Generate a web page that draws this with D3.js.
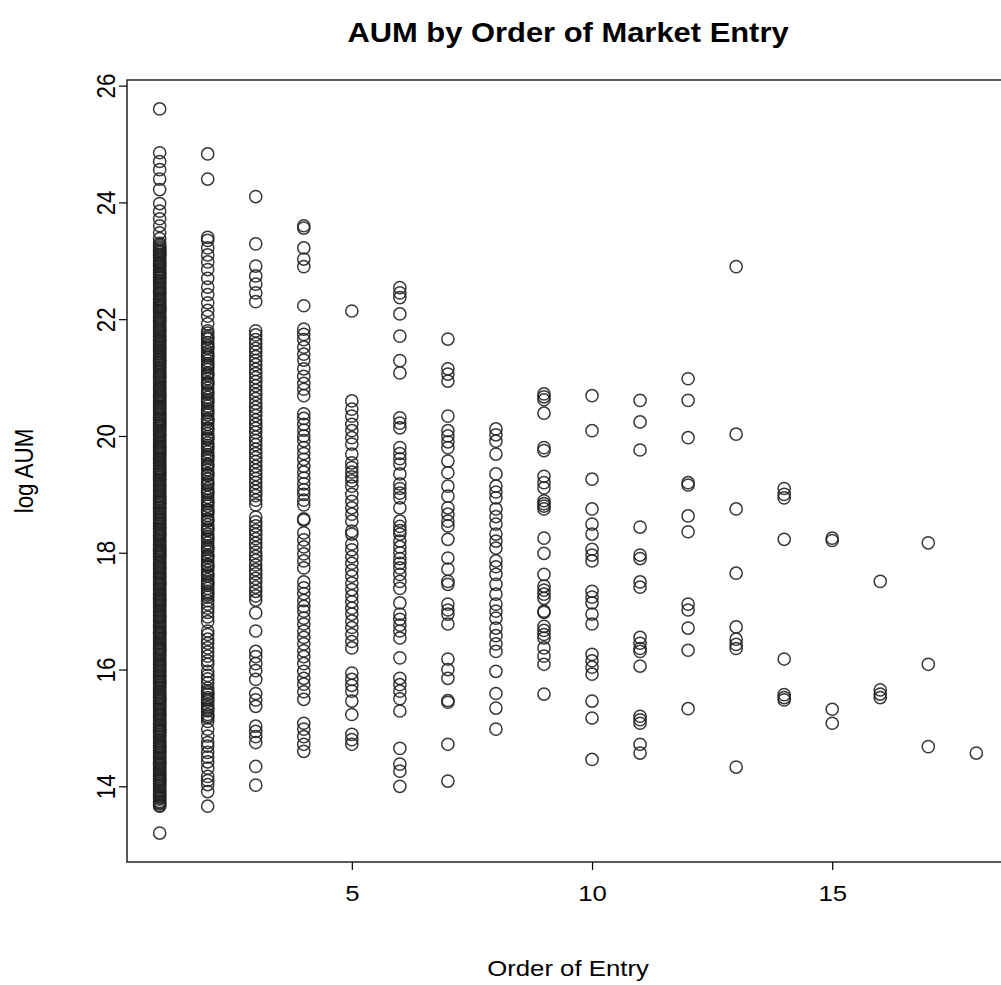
<!DOCTYPE html>
<html>
<head>
<meta charset="utf-8">
<script src="https://cdn.jsdelivr.net/npm/d3@7"></script>
<style>
  body { margin: 0; background: #fff; }
  svg { display: block; }
  text { font-family: "Liberation Sans", Arial, Helvetica, sans-serif; fill: #000; }
</style>
</head>
<body>
<svg id="chart" width="1001" height="985"></svg>
<script>
// log AUM of each fund, grouped by the order in which it entered its market
const entry1 = [25.60, 24.85, 24.70, 24.56, 24.40, 24.22, 23.98, 23.85, 23.72, 23.60, 23.48, 23.38, 23.30,
  23.27, 23.21, 23.18, 23.14, 23.09, 23.06, 23.03, 22.97, 22.95, 22.90, 22.86, 22.81, 22.79, 22.74, 22.70, 22.67,
  22.61, 22.58, 22.55, 22.49, 22.46, 22.42, 22.38, 22.33, 22.31, 22.25, 22.22, 22.18, 22.13, 22.10, 22.06, 22.01,
  21.98, 21.93, 21.90, 21.85, 21.82, 21.77, 21.74, 21.69, 21.66, 21.62, 21.57, 21.54, 21.50, 21.45, 21.42, 21.37,
  21.34, 21.29, 21.26, 21.21, 21.18, 21.13, 21.10, 21.05, 21.02, 20.97, 20.94, 20.89, 20.86, 20.82, 20.77, 20.74,
  20.69, 20.65, 20.62, 20.57, 20.54, 20.49, 20.46, 20.41, 20.38, 20.33, 20.30, 20.26, 20.21, 20.18, 20.13, 20.10,
  20.05, 20.02, 19.98, 19.93, 19.90, 19.85, 19.82, 19.78, 19.73, 19.70, 19.65, 19.62, 19.57, 19.54, 19.49, 19.46,
  19.42, 19.37, 19.34, 19.29, 19.26, 19.21, 19.18, 19.14, 19.09, 19.06, 19.01, 18.98, 18.93, 18.90, 18.86, 18.81,
  18.78, 18.73, 18.70, 18.65, 18.62, 18.58, 18.53, 18.50, 18.45, 18.42, 18.37, 18.34, 18.30, 18.25, 18.22, 18.17,
  18.14, 18.09, 18.06, 18.02, 17.97, 17.94, 17.89, 17.86, 17.81, 17.78, 17.74, 17.69, 17.66, 17.61, 17.58, 17.53,
  17.50, 17.46, 17.41, 17.38, 17.33, 17.30, 17.25, 17.22, 17.18, 17.13, 17.10, 17.05, 17.02, 16.97, 16.94, 16.90,
  16.85, 16.82, 16.77, 16.74, 16.69, 16.66, 16.62, 16.57, 16.54, 16.49, 16.46, 16.41, 16.38, 16.34, 16.29, 16.26,
  16.21, 16.18, 16.13, 16.10, 16.06, 16.01, 15.98, 15.93, 15.90, 15.85, 15.82, 15.78, 15.73, 15.70, 15.65, 15.62,
  15.57, 15.54, 15.50, 15.45, 15.42, 15.37, 15.34, 15.29, 15.26, 15.22, 15.17, 15.14, 15.09, 15.06, 15.01, 14.98,
  14.94, 14.89, 14.86, 14.81, 14.78, 14.73, 14.70, 14.66, 14.61, 14.58, 14.53, 14.50, 14.45, 14.42, 14.38, 14.33,
  14.30, 14.25, 14.22, 14.17, 14.14, 14.10, 14.05, 14.02, 13.97, 13.94, 13.89, 13.86, 13.82, 13.78, 13.74, 13.70,
  13.67, 13.66, 13.20,
  23.24, 23.16, 23.11, 23.00, 22.92, 22.84, 22.77, 22.72, 22.64, 22.52, 22.44, 22.35, 22.28, 22.20, 22.15, 22.03,
  21.96, 21.88, 21.80, 21.71, 21.64, 21.59, 21.52, 21.47, 21.40, 21.31, 21.24, 21.16, 21.08, 21.00,
  20.92, 20.84, 20.79, 20.71, 20.67, 20.59, 20.51, 20.44, 20.36, 20.28, 20.23, 20.16, 20.08, 20.00,
  19.95, 19.88, 19.80, 19.75, 19.68, 19.60, 19.52, 19.44, 19.39, 19.32, 19.24, 19.16, 19.11, 19.04,
  18.96, 18.88, 18.84, 18.76, 18.68, 18.60, 18.56, 18.48, 18.40, 18.32, 18.28, 18.20, 18.12, 18.04,
  17.99, 17.92, 17.84, 17.76, 17.72, 17.64, 17.56, 17.48, 17.44, 17.36, 17.28, 17.20, 17.16, 17.08, 17.00,
  16.92, 16.88, 16.80, 16.72, 16.64, 16.60, 16.52, 16.44, 16.36, 16.32, 16.24, 16.16, 16.08, 16.04,
  15.96, 15.88, 15.80, 15.76, 15.68, 15.60, 15.52, 15.48, 15.40, 15.32, 15.24, 15.20, 15.12, 15.04,
  14.96, 14.92, 14.84, 14.76, 14.68, 14.64, 14.56, 14.48, 14.40, 14.36, 14.28, 14.20, 14.12, 14.08, 14.00,
  13.92, 13.84, 13.80, 13.72];
const entry2 = [24.83, 24.40, 23.40, 23.35, 23.22, 23.10, 22.98, 22.85, 22.70, 22.55, 22.42, 22.28, 22.15, 22.05,
  21.92, 21.80, 21.76, 21.71, 21.66, 21.60, 21.55, 21.50, 21.44, 21.40, 21.34, 21.29, 21.24, 21.18, 21.14, 21.08,
  21.03, 20.98, 20.92, 20.88, 20.82, 20.77, 20.72, 20.66, 20.62, 20.56, 20.51, 20.46, 20.40, 20.36, 20.30, 20.25,
  20.20, 20.14, 20.10, 20.04, 19.99, 19.94, 19.88, 19.84, 19.78, 19.73, 19.68, 19.62, 19.58, 19.52, 19.47, 19.42,
  19.36, 19.32, 19.26, 19.21, 19.16, 19.10, 19.06, 19.00, 18.95, 18.90, 18.84, 18.80, 18.74, 18.69, 18.64, 18.58,
  18.54, 18.48, 18.43, 18.38, 18.32, 18.28, 18.22, 18.17, 18.12, 18.06, 18.02, 17.96, 17.91, 17.86, 17.80, 17.76,
  17.70, 17.65, 17.60, 17.54, 17.50, 17.44, 17.39, 17.34, 17.28, 17.24, 17.18, 17.12, 17.05, 16.98, 16.90, 16.82,
  16.66, 16.60, 16.52, 16.45, 16.37, 16.30, 16.23, 16.15, 16.09, 15.97, 15.90, 15.84, 15.77, 15.68, 15.63, 15.57,
  15.52, 15.46, 15.40, 15.35, 15.29, 15.23, 15.17, 15.11, 14.98, 14.86, 14.75, 14.69, 14.58, 14.50, 14.42, 14.31,
  14.17, 14.10, 14.03, 13.91, 13.66,
  21.68, 21.52, 21.37, 21.21, 21.06, 20.90, 20.74, 20.59, 20.43, 20.28, 20.12, 19.96, 19.81, 19.65, 19.50, 19.34,
  19.18, 19.03, 18.87, 18.72, 18.56, 18.40, 18.25, 18.09, 17.94, 17.78, 17.62, 17.47, 17.31, 15.60, 15.49, 15.32,
  15.20];
const entry3 = [24.10, 23.29, 22.91, 22.74, 22.60, 22.45, 22.30, 21.80, 21.73, 21.65, 21.58, 21.50, 21.44, 21.36,
  21.29, 21.22, 21.14, 21.07, 21.00, 20.93, 20.86, 20.78, 20.71, 20.64, 20.56, 20.49, 20.42, 20.35, 20.27, 20.20,
  20.13, 20.06, 19.98, 19.92, 19.85, 19.77, 19.70, 19.63, 19.56, 19.48, 19.41, 19.34, 19.27, 19.20, 19.12, 19.05,
  18.98, 18.90, 18.82, 18.61, 18.53, 18.46, 18.38, 18.31, 18.24, 18.16, 18.09, 18.01, 17.94, 17.87, 17.79, 17.71,
  17.64, 17.56, 17.49, 17.41, 17.34, 17.26, 17.19, 16.97, 16.66, 16.31, 16.22, 16.10, 15.98, 15.83, 15.59, 15.48,
  15.37, 15.03, 14.94, 14.85, 14.75, 14.34, 14.02];
const entry4 = [23.60, 23.56, 23.22, 23.03, 22.90, 22.23, 21.83, 21.74, 21.65, 21.52, 21.40, 21.30, 21.15, 21.02,
  20.90, 20.80, 20.69, 20.38, 20.30, 20.20, 20.10, 20.00, 19.92, 19.80, 19.70, 19.60, 19.48, 19.38, 19.28, 19.18,
  19.08, 19.00, 18.90, 18.82, 18.58, 18.56, 18.34, 18.22, 18.10, 17.98, 17.86, 17.74, 17.50, 17.40, 17.30, 17.18,
  17.08, 17.00, 16.88, 16.78, 16.66, 16.55, 16.44, 16.32, 16.22, 16.10, 15.97, 15.85, 15.75, 15.62, 15.49, 15.08,
  14.98, 14.85, 14.72, 14.60];
const entry5 = [22.14, 20.60, 20.46, 20.34, 20.20, 20.09, 19.97, 19.86, 19.69, 19.54, 19.46, 19.38, 19.30, 19.23,
  19.14, 19.00, 18.88, 18.77, 18.66, 18.54, 18.37, 18.32, 18.15, 18.05, 17.93, 17.82, 17.70, 17.60, 17.48, 17.37,
  17.26, 17.16, 17.05, 16.95, 16.83, 16.72, 16.60, 16.48, 16.37, 15.94, 15.83, 15.73, 15.63, 15.46, 15.23, 14.89,
  14.80, 14.72];
const entry6 = [22.54, 22.45, 22.37, 22.09, 21.71, 21.29, 21.08, 20.31, 20.22, 20.14, 19.80, 19.70, 19.61, 19.52,
  19.35, 19.18, 19.10, 19.02, 18.94, 18.77, 18.54, 18.45, 18.38, 18.32, 18.20, 18.10, 18.00, 17.90, 17.82, 17.74,
  17.63, 17.51, 17.39, 17.14, 16.95, 16.86, 16.76, 16.66, 16.54, 16.20, 15.85, 15.74, 15.63, 15.50, 15.29, 14.65,
  14.38, 14.26, 14.00];
const entry7 = [21.66, 21.15, 21.06, 20.94, 20.34, 20.09, 20.00, 19.90, 19.80, 19.57, 19.37, 19.14, 18.97, 18.77,
  18.66, 18.54, 18.46, 18.23, 17.91, 17.72, 17.51, 17.46, 17.12, 17.02, 16.95, 16.78, 16.18, 16.00, 15.85, 15.47,
  15.44, 14.72, 14.09];
const entry8 = [20.12, 20.02, 19.91, 19.69, 19.35, 19.14, 19.04, 18.94, 18.75, 18.62, 18.49, 18.32, 18.20, 18.08,
  17.86, 17.76, 17.63, 17.46, 17.29, 17.12, 17.00, 16.88, 16.71, 16.58, 16.44, 16.31, 15.97, 15.59, 15.34, 14.98];
const entry9 = [20.72, 20.67, 20.62, 20.39, 19.80, 19.75, 19.31, 19.20, 19.11, 18.89, 18.84, 18.80, 18.75, 18.25,
  17.99, 17.63, 17.43, 17.36, 17.29, 17.22, 17.00, 16.98, 16.74, 16.67, 16.60, 16.54, 16.37, 16.23, 16.09, 15.58];
const entry10 = [20.69, 20.09, 19.26, 18.75, 18.49, 18.32, 18.06, 17.96, 17.86, 17.34, 17.24, 17.14, 16.95, 16.78,
  16.26, 16.15, 16.04, 15.92, 15.46, 15.17, 14.46];
const entry11 = [20.61, 20.24, 19.76, 18.44, 17.96, 17.90, 17.50, 17.41, 16.55, 16.45, 16.36, 16.31, 16.06, 15.20,
  15.14, 15.08, 14.72, 14.57];
const entry12 = [20.98, 20.61, 19.97, 19.20, 19.16, 18.63, 18.36, 17.12, 17.02, 16.71, 16.33, 15.33];
const entry13 = [22.90, 20.03, 18.75, 17.65, 16.73, 16.52, 16.43, 16.36, 14.33];
const entry14 = [19.10, 19.00, 18.94, 18.23, 16.18, 15.57, 15.52, 15.48];
const entry15 = [18.25, 18.21, 15.32, 15.08];
const entry16 = [17.51, 15.65, 15.58, 15.52];
const entry17 = [18.17, 16.09, 14.68];
const entry18 = [14.57];

const entryGroups = [entry1, entry2, entry3, entry4, entry5, entry6, entry7, entry8, entry9,
  entry10, entry11, entry12, entry13, entry14, entry15, entry16, entry17, entry18];

const xTicks = [5, 10, 15];
const yTicks = [14, 16, 18, 20, 22, 24, 26];

const titleText = "AUM by Order of Market Entry";
const xLabel = "Order of Entry";
const yLabel = "log AUM";

// one record per fund
const points = entryGroups.flatMap((vals, i) => vals.map(v => ({ order: i + 1, aum: v })));

// plot region (the right edge of the frame runs past the canvas)
const plotLeft = 127, plotRight = 1009, plotTop = 80, plotBottom = 862;

// 4% padding on both axes, as base graphics does
const xExt = d3.extent(points, d => d.order);
const yExt = d3.extent(points, d => d.aum);
const xPad = (xExt[1] - xExt[0]) * 0.04, yPad = (yExt[1] - yExt[0]) * 0.04;

const x = d3.scaleLinear().domain([xExt[0] - xPad, xExt[1] + xPad]).range([plotLeft, plotRight]);
const y = d3.scaleLinear().domain([yExt[0] - yPad, yExt[1] + yPad]).range([plotBottom, plotTop]);

// text is set a little wide
const stretch = 1.15;
const baseSize = 22.4;

const svg = d3.select("#chart");

// points: open circles
svg.append("g")
  .selectAll("circle")
  .data(points)
  .join("circle")
  .attr("cx", d => x(d.order))
  .attr("cy", d => y(d.aum))
  .attr("r", 6.1)
  .attr("fill", "none")
  .attr("stroke", "#222")
  .attr("stroke-opacity", 0.9)
  .attr("stroke-width", 1.5);

// frame
svg.append("rect")
  .attr("x", plotLeft).attr("y", plotTop)
  .attr("width", plotRight - plotLeft).attr("height", plotBottom - plotTop)
  .attr("fill", "none").attr("stroke", "#000").attr("stroke-width", 1.3);

// x axis
const xAxis = svg.append("g")
  .attr("transform", `translate(0,${plotBottom})`)
  .call(d3.axisBottom(x).tickValues(xTicks).tickSize(8).tickSizeOuter(0));
xAxis.select(".domain").remove();
xAxis.selectAll(".tick line").attr("stroke", "#000").attr("stroke-width", 1.2);
xAxis.selectAll(".tick text")
  .attr("y", null).attr("dy", null)
  .attr("transform", `translate(0,39) scale(${stretch},1)`)
  .style("font-size", baseSize + "px").attr("font-family", null);

// y axis, labels turned to run along the axis
const yAxis = svg.append("g")
  .attr("transform", `translate(${plotLeft},0)`)
  .call(d3.axisLeft(y).tickValues(yTicks).tickSize(8).tickSizeOuter(0));
yAxis.select(".domain").remove();
yAxis.selectAll(".tick line").attr("stroke", "#000").attr("stroke-width", 1.2);
yAxis.selectAll(".tick text")
  .attr("x", null).attr("dy", null).attr("y", 0)
  .attr("text-anchor", "middle")
  .attr("transform", `translate(-12,0) scale(${stretch},1) rotate(-90)`)
  .style("font-size", baseSize + "px").attr("font-family", null);

// titles
svg.append("text")
  .attr("transform", `translate(${(plotLeft + plotRight) / 2},42) scale(${stretch},1)`)
  .attr("text-anchor", "middle")
  .style("font-size", (baseSize * 1.2) + "px").style("font-weight", "bold")
  .text(titleText);

svg.append("text")
  .attr("transform", `translate(${(plotLeft + plotRight) / 2},976) scale(${stretch},1)`)
  .attr("text-anchor", "middle")
  .style("font-size", baseSize + "px")
  .text(xLabel);

svg.append("text")
  .attr("transform", `translate(33,${(plotTop + plotBottom) / 2}) scale(${stretch},1) rotate(-90)`)
  .attr("text-anchor", "middle")
  .style("font-size", baseSize + "px")
  .text(yLabel);
</script>
</body>
</html>
